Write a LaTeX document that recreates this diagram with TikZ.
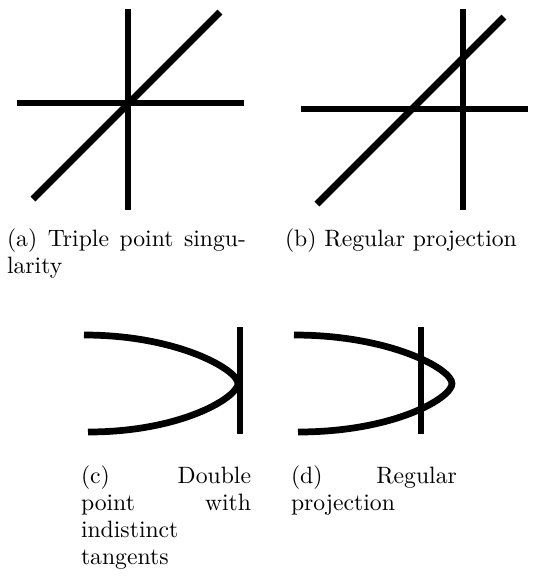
\documentclass[tikz,border=0pt]{standalone}
\begin{document}
\begin{tikzpicture}[x=0.431pt,y=-0.431pt,
  stroke/.style={line width=2.9pt, line cap=butt},
  captext/.style={anchor=base west, inner sep=0pt, outer sep=0pt,
    font=\fontsize{10.2}{12}\selectfont}]
\useasboundingbox (0,0) rectangle (539,578);
% (a) triple point
\draw[stroke] (128,9) -- (128,210);
\draw[stroke] (17,103) -- (244,103);
\draw[stroke] (33,199) -- (220,12);
% (b) regular projection
\draw[stroke] (463,9) -- (463,210);
\draw[stroke] (301,109) -- (528,109);
\draw[stroke] (317,204) -- (504,17);
% (c) double point with indistinct tangents
\draw[stroke] (84,335) .. controls (178,335) and (238,370) .. (238,383.5)
  .. controls (238,397) and (182,432) .. (88,432);
\draw[stroke] (240,327) -- (240,434);
% (d) regular projection
\draw[stroke] (294,335) .. controls (390,335) and (452,369) .. (452,383.5)
  .. controls (452,398) and (394,432) .. (298,432);
\draw[stroke] (421,327) -- (421,434);
% captions
\node[captext] (capa1) at (7,246) {\makebox[103pt][s]{(a) Triple point singu-}};
\node[captext] (capa2) at (7,273) {larity};
\node[captext] (capb) at (285,246) {(b) Regular projection};
\node[captext] (capc1) at (81,483) {\makebox[73.3pt][s]{(c) Double}};
\node[captext] (capc2) at (81,510) {\makebox[73.3pt][s]{point with}};
\node[captext] (capc3) at (81,537) {indistinct};
\node[captext] (capc4) at (81,564) {tangents};
\node[captext] (capd1) at (291,483) {\makebox[71.5pt][s]{(d) Regular}};
\node[captext] (capd2) at (291,510) {projection};
\end{tikzpicture}
\end{document}
